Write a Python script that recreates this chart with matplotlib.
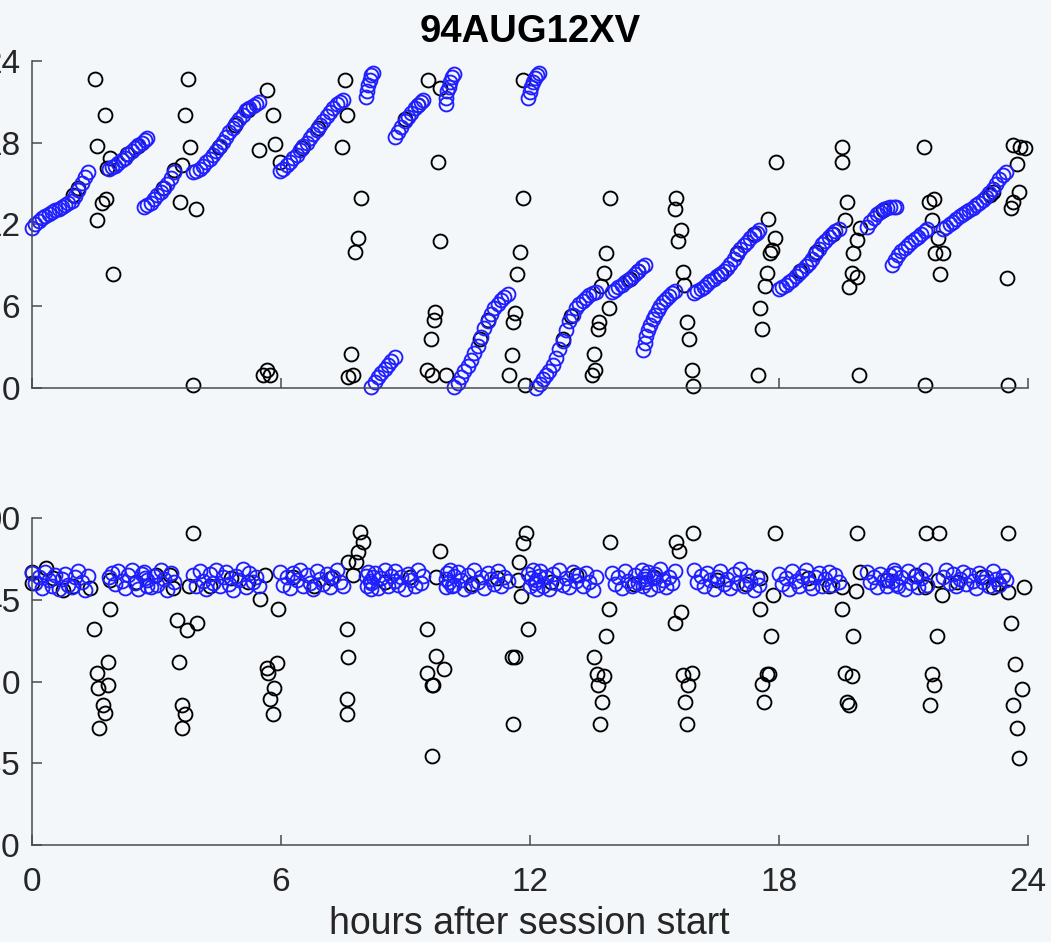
import matplotlib
matplotlib.use('Agg')
import matplotlib.pyplot as plt
import numpy as np

SESSION = '94AUG12XV'

# blue scans: one inner list per run of consecutive observations
blue_t = [
    [0.00, 0.08, 0.16, 0.24, 0.32, 0.40, 0.48, 0.56, 0.64, 0.72, 0.80, 0.88, 0.96, 1.04, 1.12, 1.20, 1.28, 1.36],
    [1.85, 1.92, 2.00, 2.08, 2.16, 2.24, 2.32, 2.40, 2.48, 2.56, 2.64, 2.72, 2.77],
    [2.70, 2.78, 2.86, 2.94, 3.02, 3.10, 3.18, 3.26, 3.34, 3.42],
    [3.88, 3.96, 4.04, 4.12, 4.20, 4.28, 4.36, 4.44, 4.52, 4.60, 4.68, 4.76, 4.84, 4.92, 5.00, 5.08, 5.16, 5.24, 5.32, 5.40, 5.48],
    [5.98, 6.06, 6.14, 6.22, 6.30, 6.38, 6.46, 6.54, 6.62, 6.70, 6.78, 6.86, 6.94, 7.02, 7.10, 7.18, 7.26, 7.34, 7.42, 7.50],
    [8.04, 8.07, 8.10, 8.14, 8.18, 8.22],
    [8.18, 8.26, 8.34, 8.42, 8.50, 8.58, 8.66, 8.74],
    [8.74, 8.82, 8.90, 8.98, 9.06, 9.14, 9.22, 9.30, 9.38, 9.43],
    [9.98, 9.97, 10.00, 10.04, 10.08, 10.12, 10.16],
    [10.18, 10.26, 10.34, 10.42, 10.50, 10.58, 10.66, 10.74, 10.82, 10.90, 10.98, 11.06, 11.14, 11.22, 11.30, 11.38, 11.46],
    [11.95, 11.99, 12.03, 12.08, 12.13, 12.18, 12.22],
    [12.15, 12.23, 12.31, 12.39, 12.47, 12.55, 12.63, 12.71, 12.79, 12.87, 12.95, 13.03, 13.11, 13.19, 13.27, 13.35, 13.43, 13.51, 13.58],
    [13.97, 14.05, 14.13, 14.21, 14.29, 14.37, 14.45, 14.53, 14.61, 14.69, 14.77],
    [14.72, 14.76, 14.80, 14.85, 14.90, 14.96, 15.02, 15.08, 15.14, 15.20, 15.27, 15.34, 15.42, 15.50],
    [15.95, 16.03, 16.11, 16.19, 16.27, 16.35, 16.43, 16.51, 16.59, 16.67, 16.75, 16.83, 16.91, 16.99, 17.07, 17.15, 17.23, 17.31, 17.39, 17.47, 17.53],
    [18.00, 18.08, 18.16, 18.24, 18.32, 18.40, 18.48, 18.56, 18.64, 18.72, 18.80, 18.88, 18.96, 19.04, 19.12, 19.20, 19.28, 19.36, 19.44],
    [20.12, 20.20, 20.28, 20.36, 20.44, 20.52, 20.60, 20.68, 20.76, 20.83],
    [20.73, 20.80, 20.87, 20.95, 21.03, 21.11, 21.19, 21.27, 21.35, 21.43, 21.51, 21.57],
    [21.95, 22.03, 22.11, 22.19, 22.27, 22.35, 22.43, 22.51, 22.59, 22.67, 22.75, 22.83, 22.91, 22.99, 23.07, 23.15, 23.23, 23.31, 23.39, 23.46],
]
blue_ra = [
    [11.76, 12.00, 12.25, 12.50, 12.65, 12.80, 12.92, 13.05, 13.15, 13.28, 13.42, 13.55, 13.75, 14.10, 14.55, 15.05, 15.45, 15.85],
    [16.10, 16.20, 16.30, 16.50, 16.70, 16.90, 17.15, 17.40, 17.60, 17.80, 18.00, 18.20, 18.30],
    [13.30, 13.40, 13.60, 13.85, 14.15, 14.40, 14.70, 15.00, 15.40, 15.85],
    [15.85, 15.95, 16.10, 16.30, 16.55, 16.80, 17.10, 17.40, 17.75, 18.05, 18.40, 18.75, 19.10, 19.40, 19.75, 20.05, 20.35, 20.55, 20.70, 20.85, 21.00],
    [15.90, 16.10, 16.35, 16.60, 16.85, 17.10, 17.45, 17.75, 18.00, 18.30, 18.60, 18.95, 19.30, 19.60, 19.95, 20.25, 20.55, 20.80, 21.00, 21.15],
    [21.35, 21.80, 22.20, 22.60, 22.95, 23.10],
    [0.10, 0.45, 0.80, 1.10, 1.40, 1.70, 2.00, 2.30],
    [18.40, 18.75, 19.15, 19.55, 19.90, 20.20, 20.50, 20.75, 20.95, 21.10],
    [20.80, 21.30, 21.75, 22.10, 22.45, 22.80, 23.05],
    [0.10, 0.40, 0.80, 1.25, 1.65, 2.10, 2.60, 3.10, 3.75, 4.40, 4.95, 5.45, 5.90, 6.20, 6.45, 6.70, 6.90],
    [21.30, 21.70, 22.10, 22.45, 22.75, 22.95, 23.10],
    [0.05, 0.35, 0.65, 0.95, 1.25, 1.70, 2.25, 2.85, 3.50, 4.30, 4.90, 5.40, 5.85, 6.15, 6.40, 6.60, 6.80, 6.95, 7.05],
    [7.05, 7.20, 7.40, 7.55, 7.75, 7.95, 8.15, 8.35, 8.60, 8.85, 9.00],
    [2.80, 3.30, 3.80, 4.25, 4.65, 5.05, 5.40, 5.75, 6.05, 6.30, 6.55, 6.75, 6.95, 7.10],
    [6.95, 7.10, 7.30, 7.45, 7.65, 7.85, 8.00, 8.20, 8.40, 8.60, 8.80, 9.10, 9.45, 9.85, 10.20, 10.50, 10.75, 11.00, 11.20, 11.40, 11.60],
    [7.30, 7.45, 7.60, 7.75, 7.95, 8.20, 8.45, 8.70, 8.95, 9.20, 9.50, 9.85, 10.20, 10.55, 10.80, 11.05, 11.30, 11.50, 11.65],
    [11.85, 12.20, 12.50, 12.75, 12.95, 13.10, 13.20, 13.25, 13.30, 13.30],
    [9.00, 9.40, 9.75, 10.05, 10.30, 10.50, 10.70, 10.90, 11.10, 11.30, 11.55, 11.70],
    [11.70, 11.85, 12.00, 12.20, 12.40, 12.60, 12.75, 12.90, 13.05, 13.20, 13.40, 13.60, 13.80, 14.00, 14.30, 14.60, 14.95, 15.30, 15.60, 15.85],
]
blue_dec = [
    [60.0, 54.5, 58.0, 51.5, 60.5, 56.0, 53.0, 59.0, 51.0, 56.5, 59.5, 53.5, 52.0, 57.5, 61.0, 55.0, 50.5, 58.5],
    [57.5, 60.0, 54.0, 61.0, 55.5, 51.5, 59.0, 61.5, 54.5, 51.0, 59.5, 57.0, 52.5],
    [60.5, 56.0, 52.0, 58.5, 53.5, 61.5, 56.5, 50.5, 60.0, 55.0],
    [59.0, 53.0, 61.0, 55.5, 51.0, 59.5, 54.5, 61.5, 52.5, 58.0, 60.5, 54.0, 50.5, 58.5, 56.0, 62.0, 52.0, 60.0, 55.0, 57.5, 53.0],
    [60.5, 53.5, 57.5, 51.5, 60.0, 56.0, 61.5, 53.0, 59.0, 54.5, 51.0, 61.0, 56.5, 54.0, 59.5, 52.0, 58.0, 61.5, 55.0, 52.5],
    [58.5, 53.0, 60.5, 55.5, 51.0, 58.0],
    [54.5, 60.0, 51.5, 57.0, 61.5, 53.0, 58.5, 55.5],
    [61.0, 53.5, 57.5, 51.0, 59.5, 56.0, 52.5, 61.5, 54.5, 58.5],
    [56.5, 52.0, 60.0, 55.0, 61.5, 53.0, 58.5],
    [53.5, 60.5, 56.0, 51.0, 59.0, 52.5, 61.5, 55.0, 57.5, 51.5, 60.0, 56.5, 54.0, 61.0, 53.0, 58.0, 55.5],
    [59.5, 52.5, 57.0, 61.5, 54.5, 51.0, 58.5],
    [56.0, 61.0, 52.5, 58.0, 51.0, 59.5, 54.5, 61.5, 53.5, 57.0, 52.0, 60.5, 55.5, 59.0, 53.0, 60.0, 55.0, 50.5, 57.5],
    [60.0, 54.0, 57.5, 51.5, 61.0, 55.5, 53.0, 59.0, 54.5, 61.5, 56.5],
    [52.5, 58.5, 55.0, 60.5, 51.0, 57.0, 59.5, 53.5, 62.0, 56.0, 52.0, 58.0, 54.5, 61.0],
    [61.5, 55.0, 58.5, 52.5, 60.0, 56.0, 51.0, 57.5, 61.0, 54.0, 56.5, 51.5, 59.5, 54.5, 62.0, 53.0, 59.0, 55.5, 50.5, 58.0, 53.5],
    [59.5, 54.0, 57.0, 51.0, 61.0, 55.5, 52.5, 58.5, 61.5, 54.5, 51.5, 58.0, 60.0, 53.0, 56.5, 60.5, 53.5, 59.0, 55.0],
    [60.5, 55.0, 58.0, 52.0, 59.5, 56.0, 52.5, 59.0, 61.5, 54.0],
    [55.5, 60.0, 53.0, 57.5, 51.0, 61.0, 54.5, 58.5, 52.0, 57.0, 61.5, 53.5],
    [58.0, 61.5, 54.5, 59.5, 52.5, 56.5, 60.5, 54.0, 59.0, 55.5, 51.5, 60.0, 55.0, 57.5, 53.0, 61.0, 56.5, 53.5, 58.5, 56.0],
]

# black observations, upper panel (hours, RA in hours)
black_t_ra = [
    1.52, 1.76, 1.57, 1.88, 1.81, 1.78, 1.68, 1.56, 1.96, 0.99, 1.11,
    3.76, 3.69, 3.81, 3.61, 3.42, 3.57, 3.95, 3.16, 3.88,
    5.66, 5.80, 5.48, 5.86, 5.98, 5.66, 5.73, 5.57,
    7.54, 7.58, 7.46, 7.94, 7.86, 7.78, 7.68, 7.74, 7.62,
    9.55, 9.83, 9.79, 9.83, 9.71, 9.69, 9.61, 9.51, 9.63, 9.97,
    11.84, 11.84, 11.76, 11.69, 11.64, 11.58, 11.56, 11.50, 11.88,
    13.93, 13.83, 13.78, 13.70, 13.91, 13.67, 13.65, 13.54, 13.57, 13.49,
    15.53, 15.49, 15.63, 15.57, 15.69, 15.71, 15.78, 15.84, 15.90, 15.93,
    17.93, 17.74, 17.90, 17.78, 17.83, 17.70, 17.66, 17.54, 17.58, 17.50,
    19.51, 19.53, 19.63, 19.59, 19.95, 19.89, 19.78, 19.75, 19.87, 19.69, 19.94,
    21.49, 21.62, 21.73, 21.68, 21.84, 21.76, 21.96, 21.88, 21.52,
    23.65, 23.81, 23.93, 23.74, 23.79, 23.65, 23.58, 23.49, 23.53, 23.16, 23.08,
    2.30, 2.55, 4.50, 4.90, 5.20, 6.50, 6.90, 9.00, 9.30, 10.80, 11.00,
    12.80, 13.00, 14.40, 14.60, 16.60, 17.00, 17.40, 18.50, 18.90, 19.30, 20.50,
]
black_ra = [
    22.66, 20.00, 17.77, 16.87, 16.14, 13.87, 13.58, 12.33, 8.37, 14.16, 14.67,
    22.66, 20.02, 17.68, 16.36, 16.00, 13.65, 13.14, 14.67, 0.24,
    21.85, 20.02, 17.46, 17.90, 16.58, 1.34, 0.98, 0.98,
    22.59, 20.02, 17.70, 13.94, 11.01, 9.99, 2.51, 0.98, 0.83,
    22.59, 22.00, 16.60, 10.79, 5.59, 5.00, 3.61, 1.34, 0.98, 0.98,
    22.59, 13.94, 9.99, 8.37, 5.52, 4.86, 2.44, 0.98, 0.24,
    13.94, 9.92, 8.45, 7.49, 5.88, 4.86, 4.35, 2.51, 1.34, 0.98,
    13.96, 13.14, 11.60, 10.79, 8.52, 7.57, 4.86, 3.61, 1.34, 0.17,
    16.60, 12.40, 11.01, 9.92, 10.10, 8.45, 7.49, 5.88, 4.35, 0.98,
    17.70, 16.60, 13.67, 12.33, 11.74, 10.86, 9.91, 8.45, 8.15, 7.42, 0.98,
    17.70, 13.67, 13.87, 12.33, 11.01, 9.91, 9.91, 8.37, 0.24,
    17.82, 17.70, 17.63, 16.43, 14.40, 13.67, 13.20, 8.10, 0.24, 14.38, 14.16,
    17.15, 17.75, 17.70, 19.30, 20.40, 17.60, 19.10, 19.70, 20.75, 3.60, 5.00,
    3.60, 5.30, 8.00, 8.60, 8.40, 9.90, 11.30, 8.60, 10.00, 11.30, 13.05,
]

# black observations, lower panel (hours, declination in degrees)
black_t_dec = [
    0.00, 0.00, 0.35, 1.88, 1.88, 1.50, 1.56, 1.58, 1.84, 1.84, 1.70, 1.77, 1.62, 1.40, 0.75,
    3.33, 3.40, 3.79, 3.49, 3.74, 3.97, 3.89, 3.55, 3.61, 3.69, 3.61,
    5.61, 5.49, 5.93, 5.66, 5.69, 5.90, 5.83, 5.73, 5.80, 7.62,
    7.58, 7.62, 7.58, 7.58,
    7.90, 7.97, 7.86, 7.81, 7.74,
    9.83, 9.73, 9.53, 9.73, 9.93, 9.51, 9.63, 9.67, 9.63,
    11.90, 11.84, 11.74, 11.72, 11.78, 11.96, 11.56, 11.64, 11.58,
    13.93, 13.91, 13.83, 13.55, 13.61, 13.78, 13.65, 13.73, 13.69,
    15.53, 15.60, 15.92, 15.63, 15.49, 15.68, 15.90, 15.81, 15.73, 15.79,
    17.90, 17.54, 17.85, 17.54, 17.80, 17.70, 17.77, 17.58, 17.64,
    19.89, 19.51, 19.86, 19.53, 19.79, 19.59, 19.75, 19.63, 19.69, 19.95,
    21.54, 21.86, 21.52, 21.94, 21.80, 21.68, 21.73, 21.64, 21.84,
    23.53, 23.90, 23.53, 23.58, 23.69, 23.85, 23.65, 23.74, 23.78, 23.16,
    0.50, 1.00, 2.50, 3.00, 4.30, 4.80, 5.20, 6.30, 6.80, 7.20, 8.50, 9.10, 10.60, 11.20,
    12.50, 13.10, 14.50, 15.00, 16.50, 17.20, 18.70, 19.20, 20.60, 21.30, 22.30, 22.90, 23.30,
]
black_dec = [
    60.7, 54.3, 62.6, 56.1, 40.0, 29.0, 4.7, -3.5, 10.6, -1.7, -12.7, -17.3, -25.6, 51.6, 50.6,
    58.9, 51.6, 52.8, 34.1, 28.6, 32.6, 81.8, 10.6, -12.7, -17.7, -25.6,
    58.9, 45.5, 40.0, 7.5, 4.7, 10.2, -3.5, -9.6, -17.7, 66.2,
    29.0, 13.9, -9.6, -17.7,
    82.7, 77.2, 71.7, 66.2, 58.9,
    72.3, 57.9, 29.0, 14.3, 7.0, 4.7, -1.7, -1.7, -40.8,
    81.8, 76.7, 66.2, 56.1, 47.3, 29.0, 13.9, 13.9, -23.2,
    77.2, 40.0, 25.3, 13.9, 4.4, 3.3, -1.7, -11.4, -23.2,
    77.2, 72.3, 82.2, 38.7, 32.6, 3.8, 4.7, -1.7, -11.4, -23.2,
    81.8, 57.1, 47.9, 40.0, 25.3, 4.4, 4.4, -1.2, -11.4,
    81.8, 52.1, 50.2, 40.0, 25.3, 4.7, 3.3, -11.4, -12.7, 60.7,
    81.8, 81.8, 52.1, 47.9, 25.3, 4.4, -1.7, -12.7, 56.1,
    82.2, 52.4, 49.7, 32.6, 9.9, -4.1, -12.7, -25.6, -42.1, 52.1,
    57.0, 53.0, 55.0, 59.0, 53.0, 57.0, 55.0, 58.0, 53.0, 57.0, 55.0, 58.0, 54.0, 57.0,
    55.0, 59.0, 54.0, 58.0, 56.0, 54.0, 57.0, 53.0, 56.0, 59.0, 55.0, 58.0, 54.0,
]

BG = '#f4f7fa'
AX_COLOR = '#4a4a4a'
TXT_COLOR = '#262626'
BLUE = '#1f1fff'

plt.rcParams['font.family'] = ['Liberation Sans', 'DejaVu Sans']

fig = plt.figure(figsize=(10.51, 9.42), dpi=100, facecolor=BG)
ax1 = fig.add_axes([0.0304, 0.5878, 0.9477, 0.3478])
ax2 = fig.add_axes([0.0304, 0.1030, 0.9477, 0.3466])

bt = np.concatenate(blue_t)
mk = dict(marker='o', linestyle='none', markersize=10, markeredgewidth=1.35,
          markerfacecolor='none', clip_on=False)

ax1.plot(black_t_ra, black_ra, markeredgecolor='k', **mk)
ax1.plot(bt, np.concatenate(blue_ra), markeredgecolor=BLUE, **mk)
ax2.plot(black_t_dec, black_dec, markeredgecolor='k', **mk)
ax2.plot(bt, np.concatenate(blue_dec), markeredgecolor=BLUE, **mk)

for ax, lim, ticks in [(ax1, (0, 24), [0, 6, 12, 18, 24]),
                       (ax2, (-90, 90), [-90, -45, 0, 45, 90])]:
    ax.set_facecolor(BG)
    ax.set_xlim(0, 24)
    ax.set_ylim(*lim)
    ax.set_xticks([0, 6, 12, 18, 24])
    ax.set_yticks(ticks)
    for side in ('top', 'right'):
        ax.spines[side].set_visible(False)
    for side in ('left', 'bottom'):
        ax.spines[side].set_color(AX_COLOR)
        ax.spines[side].set_linewidth(1.1)
    ax.tick_params(direction='in', length=7.5, width=1.1, color=AX_COLOR,
                   labelcolor=TXT_COLOR, labelsize=24)
    ax.tick_params(axis='y', pad=8.5)
    ax.tick_params(axis='x', pad=16)

ax1.tick_params(axis='x', labelbottom=False)

fig.text(0.504, 0.955, SESSION, ha='center', va='baseline',
         fontsize=27.5, fontweight='bold', color='k')
fig.text(0.504, 0.009, 'hours after session start', ha='center', va='baseline',
         fontsize=27, color=TXT_COLOR)

fig.savefig('out.png', dpi=100, facecolor=BG)
